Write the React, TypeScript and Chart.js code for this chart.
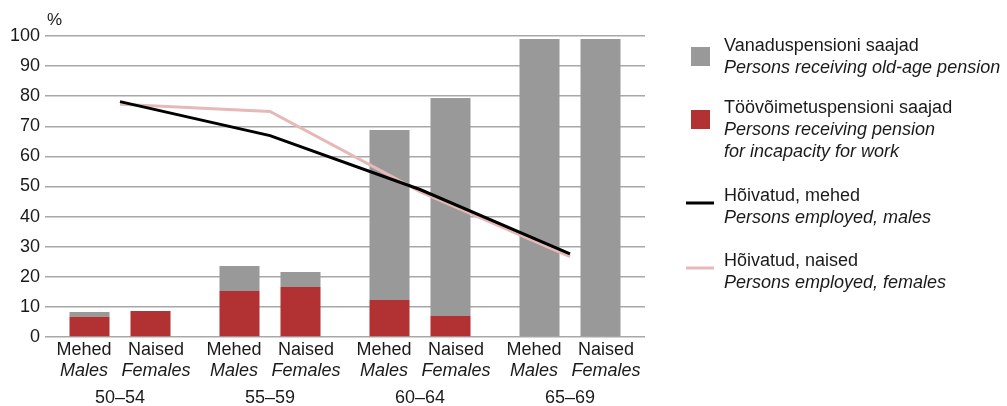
import React, { useEffect, useRef } from "react";
import { Chart, registerables } from "chart.js";

Chart.register(...registerables);

const ageGroups = ["50–54", "55–59", "60–64", "65–69"];
const sexLabelsEt = ["Mehed", "Naised"];
const sexLabelsEn = ["Males", "Females"];

const incapacityMales = [6.7, 15.3, 12.3, 0];
const incapacityFemales = [8.6, 16.6, 7.0, 0];
const oldAgeMales = [1.6, 8.3, 56.5, 99.0];
const oldAgeFemales = [0, 5.0, 72.4, 99.0];
const employedMales = [78.2, 66.9, 49.0, 27.6];
const employedFemales = [77.3, 74.9, 48.3, 26.7];

const yTicks = [0, 10, 20, 30, 40, 50, 60, 70, 80, 90, 100];

const legendItems = [
  { kind: "box", color: "#999999", lines: ["Vanaduspensioni saajad", "Persons receiving old-age pension"] },
  { kind: "box", color: "#b23234", lines: ["Töövõimetuspensioni saajad", "Persons receiving pension", "for incapacity for work"] },
  { kind: "line", color: "#000000", lines: ["Hõivatud, mehed", "Persons employed, males"] },
  { kind: "line", color: "#e6b9b8", lines: ["Hõivatud, naised", "Persons employed, females"] },
];

const FONT = '"Liberation Sans", Arial, sans-serif';
const TEXT = "#1a1a1a";

const annotations = {
  id: "annotations",
  afterDraw(chart: any) {
    const ctx = chart.ctx;
    const x = chart.scales.x;
    ctx.save();
    ctx.fillStyle = TEXT;
    ctx.textAlign = "center";
    ctx.textBaseline = "alphabetic";
    ageGroups.forEach((g, i) => {
      const cx = x.getPixelForValue(i);
      [-36, 36].forEach((off, s) => {
        ctx.font = `18px ${FONT}`;
        ctx.fillText(sexLabelsEt[s], cx + off, 355);
        ctx.font = `italic 18px ${FONT}`;
        ctx.fillText(sexLabelsEn[s], cx + off, 376);
      });
      ctx.font = `18px ${FONT}`;
      ctx.fillText(g, cx, 403);
    });
    ctx.textAlign = "left";
    ctx.font = `17px ${FONT}`;
    ctx.fillText("%", 47, 25);

    // legend
    const tx = 724;
    const layout = [
      { top: 51, mark: 47 },
      { top: 113, mark: 110 },
      { top: 201, mark: 203 },
      { top: 266, mark: 268 },
    ];
    legendItems.forEach((it, k) => {
      const L = layout[k];
      if (it.kind === "box") {
        ctx.fillStyle = it.color;
        ctx.fillRect(691, L.mark, 19, 19);
      } else {
        ctx.strokeStyle = it.color;
        ctx.lineWidth = 3;
        ctx.beginPath();
        ctx.moveTo(686, L.mark);
        ctx.lineTo(714, L.mark);
        ctx.stroke();
      }
      ctx.fillStyle = TEXT;
      it.lines.forEach((t, j) => {
        ctx.font = j === 0 ? `18px ${FONT}` : `italic 18px ${FONT}`;
        ctx.fillText(t, tx, L.top + j * 21.8);
      });
    });
    ctx.restore();
  },
};

export default function App() {
  const ref = useRef<HTMLCanvasElement>(null);
  useEffect(() => {
    if (!ref.current) return;
    const barCommon = { categoryPercentage: 0.8133, barPercentage: 0.656, borderWidth: 0, order: 1 };
    const chart = new Chart(ref.current, {
      type: "bar",
      data: {
        labels: ageGroups,
        datasets: [
          { type: "line", label: "Hõivatud, mehed", data: employedMales, borderColor: "#000000", borderWidth: 3, pointRadius: 0, stack: "lm", order: 0 } as any,
          { type: "line", label: "Hõivatud, naised", data: employedFemales, borderColor: "#e6b9b8", borderWidth: 3, pointRadius: 0, stack: "lf", order: 0 } as any,
          { label: "Töövõimetuspensioni saajad M", data: incapacityMales, backgroundColor: "#b23234", stack: "M", ...barCommon },
          { label: "Töövõimetuspensioni saajad N", data: incapacityFemales, backgroundColor: "#b23234", stack: "F", ...barCommon },
          { label: "Vanaduspensioni saajad M", data: oldAgeMales, backgroundColor: "#999999", stack: "M", ...barCommon },
          { label: "Vanaduspensioni saajad N", data: oldAgeFemales, backgroundColor: "#999999", stack: "F", ...barCommon },
        ],
      },
      plugins: [annotations],
      options: {
        animation: false,
        responsive: false,
        layout: { padding: { left: 0, right: 362, top: 36, bottom: 69 } },
        plugins: { legend: { display: false }, tooltip: { enabled: false } },
        scales: {
          x: { display: false, stacked: true },
          y: {
            stacked: true,
            min: 0,
            max: 100,
            afterFit: (s: any) => { s.width = 45; },
            afterBuildTicks: (s: any) => { s.ticks = yTicks.map((v) => ({ value: v })); },
            ticks: { color: TEXT, font: { family: FONT, size: 18 }, padding: 5 },
            grid: { color: "#a8a8a8", lineWidth: 1.5, drawTicks: false },
            border: { display: false },
          },
        },
      },
    });
    return () => chart.destroy();
  }, []);
  return (
    <div style={{ position: "fixed", left: 0, top: 0, width: 1007, height: 406, background: "#fff" }}>
      <canvas ref={ref} width={1007} height={406} style={{ width: 1007, height: 406 }} />
    </div>
  );
}
